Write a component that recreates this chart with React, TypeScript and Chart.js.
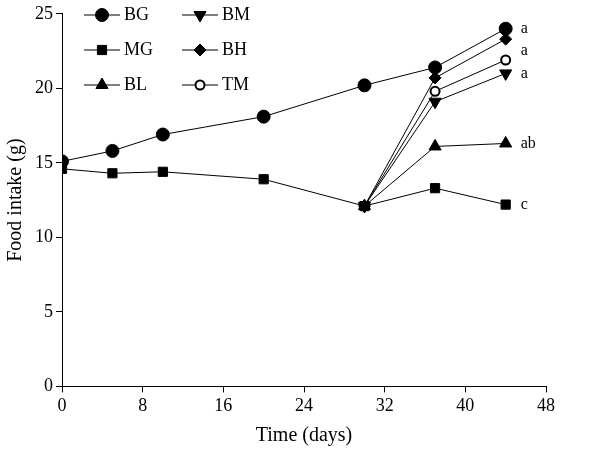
import React, { useEffect, useRef } from "react";
import { Chart, registerables } from "chart.js";
import { drawPoint } from "chart.js/helpers";
Chart.register(...registerables);

const BG_X = [0, 5, 10, 20, 30, 37, 44];
const BG_Y = [15.1, 15.8, 16.9, 18.1, 20.2, 21.4, 24.0];
const MG_Y = [14.6, 14.3, 14.4, 13.9, 12.1, 13.3, 12.2];
const TAIL_X = [30, 37, 44];
const BL_Y = [12.1, 16.1, 16.3];
const BM_Y = [12.1, 19.1, 21.0];
const BH_Y = [12.1, 20.7, 23.3];
const TM_Y = [12.1, 19.8, 21.9];
const LETTERS = [
  { y: 24.0, t: "a" },
  { y: 22.5, t: "a" },
  { y: 21.0, t: "a" },
  { y: 16.3, t: "ab" },
  { y: 12.2, t: "c" },
];
const FONT = "'Liberation Serif', 'DejaVu Serif', serif";

const pts = (xs: number[], ys: number[]) => xs.map((x, i) => ({ x, y: ys[i] }));

export default function App() {
  const ref = useRef<HTMLCanvasElement>(null);
  useEffect(() => {
    const mk = (label: string, xs: number[], ys: number[], style: any, fill = true, rot = 0, r = 6) => ({
      label,
      data: pts(xs, ys),
      borderColor: "#000",
      borderWidth: 1,
      backgroundColor: fill ? "#000" : "#fff",
      pointBackgroundColor: fill ? "#000" : "#fff",
      pointBorderColor: "#000",
      pointBorderWidth: fill ? 1 : 2,
      pointStyle: style,
      pointRotation: rot,
      pointRadius: r,
      showLine: true,
      tension: 0,
    });
    const datasets = [
      mk("BL", TAIL_X, BL_Y, "triangle", true, 0, 7),
      mk("BM", TAIL_X, BM_Y, "triangle", true, 180, 7),
      mk("TM", TAIL_X, TM_Y, "circle", false, 0, 4.5),
      mk("BH", TAIL_X, BH_Y, "rectRot", true, 0, 6),
      mk("MG", BG_X, MG_Y, "rect", true, 0, 6.5),
      mk("BG", BG_X, BG_Y, "circle", true, 0, 6.5),
    ];
    const legendItems = [
      { l: "BG", s: "circle", f: true, r: 6.5, rot: 0, col: 0, row: 0 },
      { l: "MG", s: "rect", f: true, r: 6.5, rot: 0, col: 0, row: 1 },
      { l: "BL", s: "triangle", f: true, r: 7, rot: 0, col: 0, row: 2 },
      { l: "BM", s: "triangle", f: true, r: 7, rot: 180, col: 1, row: 0 },
      { l: "BH", s: "rectRot", f: true, r: 6, rot: 0, col: 1, row: 1 },
      { l: "TM", s: "circle", f: false, r: 4.5, rot: 0, col: 1, row: 2 },
    ];
    const extras = {
      id: "extras",
      afterDatasetsDraw(chart: any) {
        const ctx = chart.ctx;
        const xs = chart.scales.x, ys = chart.scales.y;
        ctx.save();
        ctx.fillStyle = "#000";
        ctx.font = `16px ${FONT}`;
        ctx.textBaseline = "middle";
        LETTERS.forEach((L) => ctx.fillText(L.t, xs.getPixelForValue(44) + 15, ys.getPixelForValue(L.y)));
        legendItems.forEach((it) => {
          const x = 102 + it.col * 98;
          const y = 15 + it.row * 35;
          ctx.strokeStyle = "#000";
          ctx.lineWidth = 1;
          ctx.beginPath();
          ctx.moveTo(x - 18, y);
          ctx.lineTo(x + 18, y);
          ctx.stroke();
          ctx.fillStyle = it.f ? "#000" : "#fff";
          ctx.lineWidth = it.f ? 1 : 2;
          drawPoint(ctx, { pointStyle: it.s, radius: it.r, rotation: it.rot, borderWidth: it.f ? 1 : 2 } as any, x, y);
          ctx.fillStyle = "#000";
          ctx.font = `18px ${FONT}`;
          ctx.fillText(it.l, x + 22, y);
        });
        ctx.restore();
      },
    };
    const chart = new Chart(ref.current!, {
      type: "scatter",
      data: { datasets: datasets as any },
      options: {
        animation: false,
        responsive: false,
        layout: { padding: { top: 2, right: 55, left: 0, bottom: 0 } },
        plugins: { legend: { display: false }, tooltip: { enabled: false } },
        scales: {
          x: {
            type: "linear", min: 0, max: 48,
            ticks: { stepSize: 8, color: "#000", font: { family: FONT, size: 18 } },
            grid: { drawOnChartArea: false, color: "#000", tickLength: 6 },
            border: { color: "#000" },
            title: { display: true, text: "Time (days)", color: "#000", font: { family: FONT, size: 20 } },
          },
          y: {
            min: 0, max: 25,
            ticks: { stepSize: 5, color: "#000", font: { family: FONT, size: 18 } },
            grid: { drawOnChartArea: false, color: "#000", tickLength: 6 },
            border: { color: "#000" },
            title: { display: true, text: "Food intake (g)", color: "#000", font: { family: FONT, size: 20 } },
          },
        },
      },
      plugins: [extras],
    });
    return () => chart.destroy();
  }, []);
  return (
    <div style={{ position: "absolute", left: 0, top: 0, background: "#fff" }}>
      <canvas ref={ref} width={601} height={452} style={{ width: 601, height: 452 }} />
    </div>
  );
}
